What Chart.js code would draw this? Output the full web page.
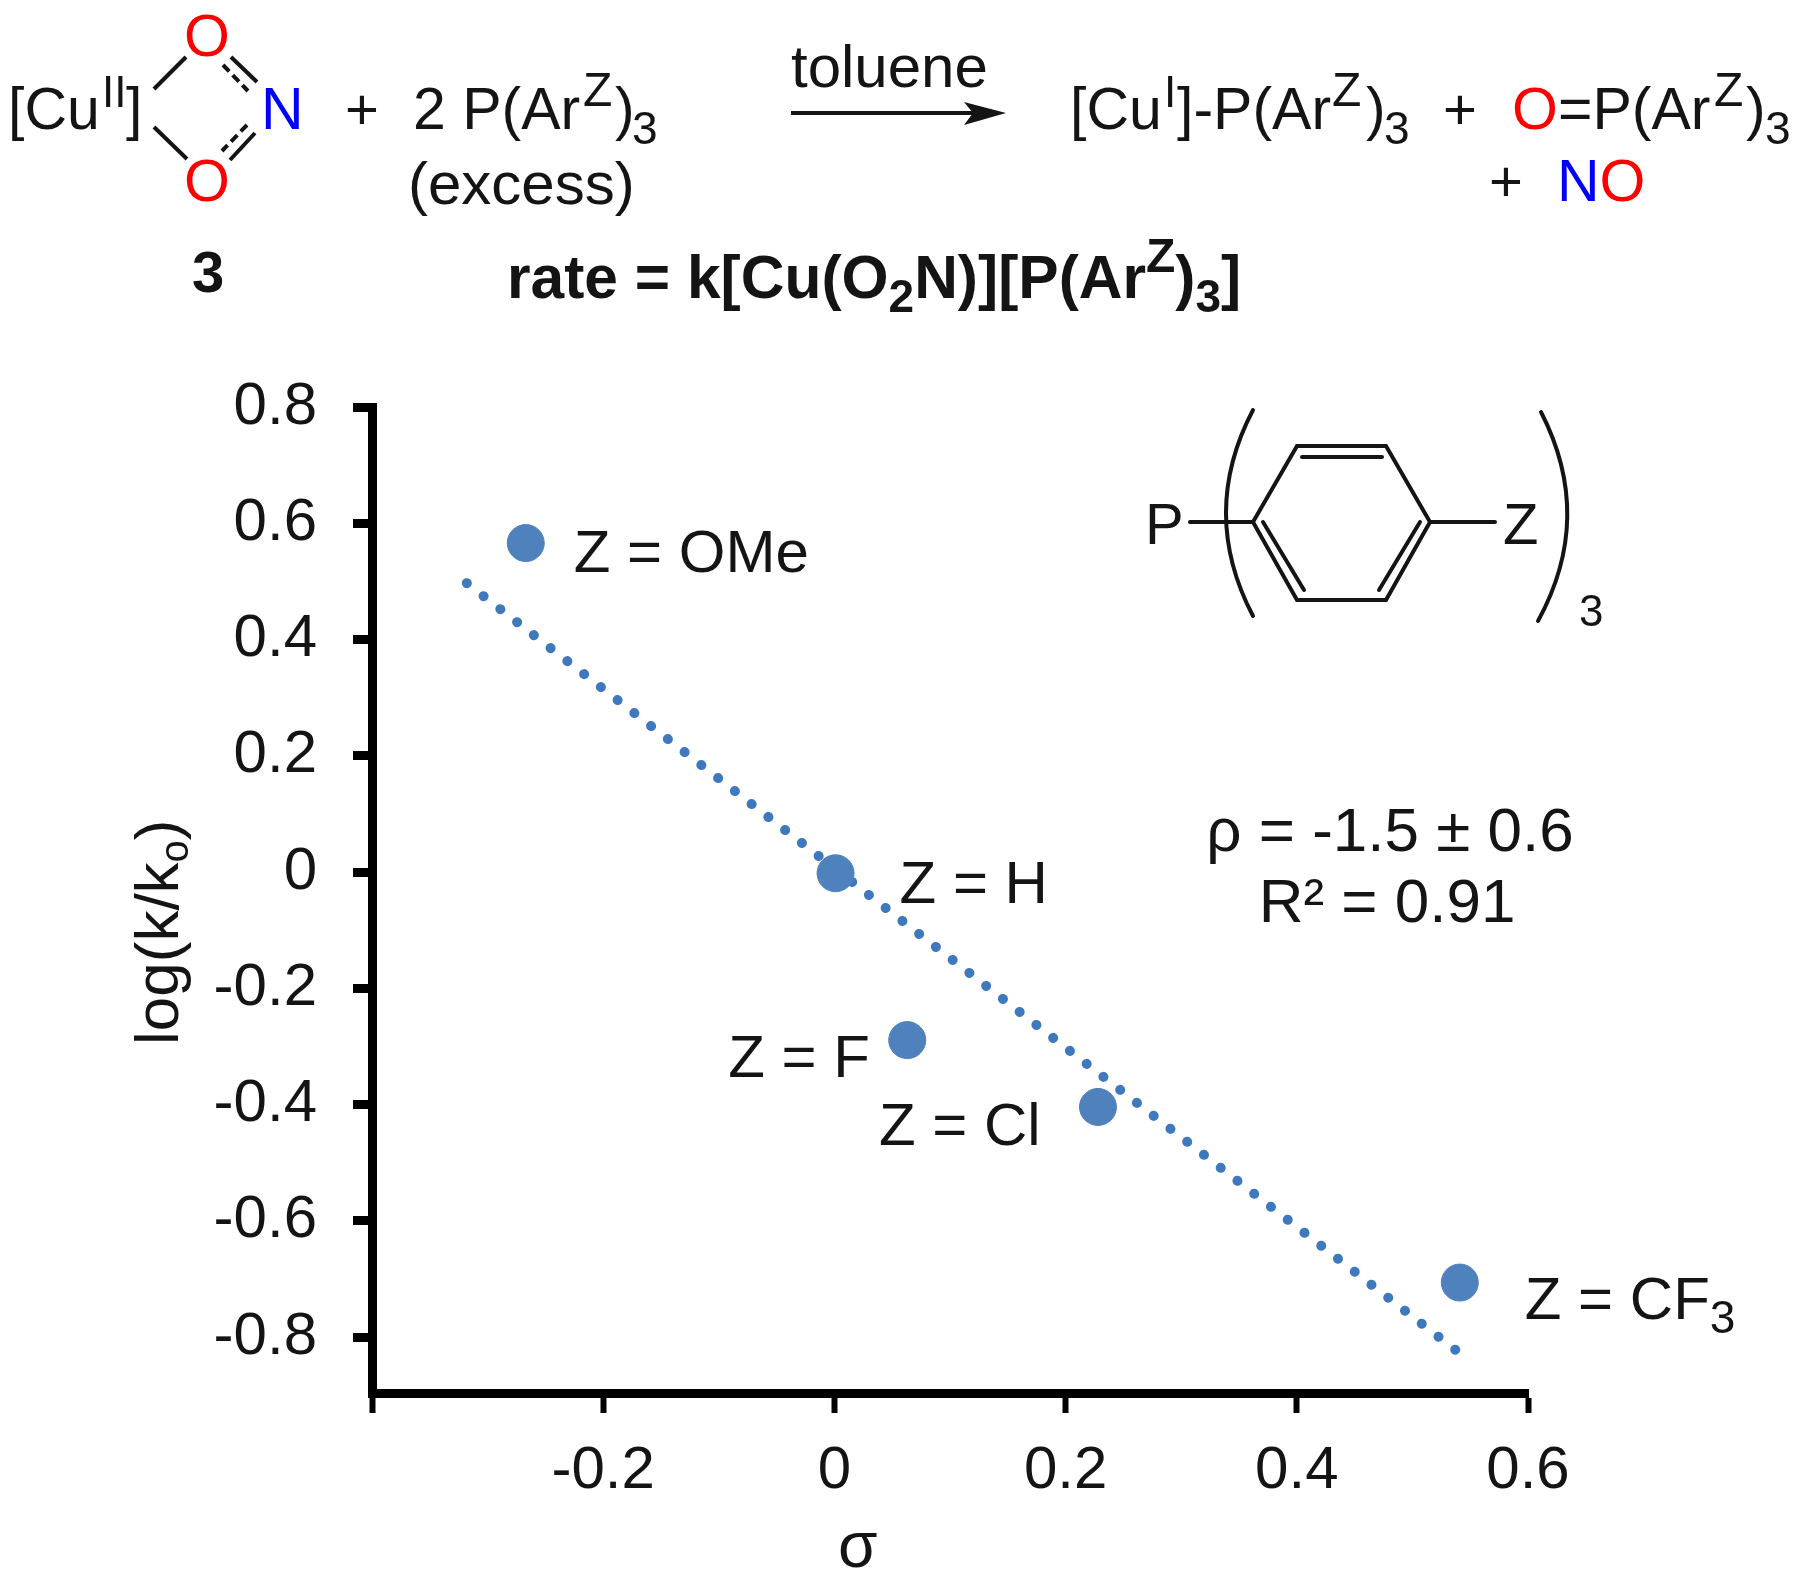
<!DOCTYPE html>
<html>
<head>
<meta charset="utf-8">
<title>Hammett plot</title>
<style>
  html, body { margin: 0; padding: 0; background: #fff; }
  canvas { display: block; }
</style>
<script src="https://cdn.jsdelivr.net/npm/chart.js@4"></script>
</head>
<body>
<canvas id="hammett" width="1800" height="1584"></canvas>
<script>
// data
const substituents = ['OMe', 'H', 'F', 'Cl', 'CF3'];
const sigmaValues = [-0.267, 0.001, 0.063, 0.228, 0.541];
const logRatios = [0.566, -0.002, -0.289, -0.404, -0.706];
const trendSigma = [-0.318, 0.538];
const trendLog = [0.497, -0.823];

const xTickValues = [-0.4, -0.2, 0, 0.2, 0.4, 0.6];
const xTickLabels = ['', '-0.2', '0', '0.2', '0.4', '0.6'];
const yTickValues = [-0.8, -0.6, -0.4, -0.2, 0, 0.2, 0.4, 0.6, 0.8];
const yTickLabels = ['-0.8', '-0.6', '-0.4', '-0.2', '0', '0.2', '0.4', '0.6', '0.8'];

const FONT = '"Liberation Sans", Arial, sans-serif';
const INK = '#141414';
const RED = '#ff0000';
const BLUE = '#0000ff';

// offset of each point label from its marker, in pixels
const labelOffsets = [[48, 29], [64, 30], [-179, 37], [-219, 38], [65, 36]];

// draws a row of text pieces, each piece is [text, options]
function drawRuns(ctx, x, y, runs, size, bold) {
  let penX = x;
  runs.forEach((run) => {
    const opt = run[1] || {};
    const s = opt.size || size;
    ctx.font = (bold ? 'bold ' : '') + s + 'px ' + FONT;
    ctx.fillStyle = opt.color || INK;
    ctx.textAlign = 'left';
    ctx.textBaseline = 'alphabetic';
    if (opt.x !== undefined) penX = opt.x;
    ctx.fillText(run[0], penX, y + (opt.dy || 0));
    penX += ctx.measureText(run[0]).width;
  });
  return penX;
}

function line(ctx, x1, y1, x2, y2, width, dash) {
  ctx.beginPath();
  ctx.lineWidth = width;
  ctx.setLineDash(dash || []);
  ctx.moveTo(x1, y1);
  ctx.lineTo(x2, y2);
  ctx.stroke();
  ctx.setLineDash([]);
}

function drawScheme(ctx) {
  ctx.strokeStyle = INK;
  ctx.lineCap = 'butt';

  // reactant
  drawRuns(ctx, 8, 129, [['[Cu'], ['II', { size: 44, dy: -22, x: 102 }], [']', { x: 126 }]], 59);
  drawRuns(ctx, 184, 56, [['O', { color: RED }]], 59);
  drawRuns(ctx, 261, 129, [['N', { color: BLUE }]], 59);
  drawRuns(ctx, 184, 201, [['O', { color: RED }]], 59);
  line(ctx, 154, 89, 186, 57, 4);
  line(ctx, 154, 127, 187, 159, 4);
  line(ctx, 231, 57, 257, 82, 4);
  line(ctx, 223, 65, 248, 91, 4, [9, 5]);
  line(ctx, 255, 133, 230, 160, 4);
  line(ctx, 247, 125, 222, 151, 4, [9, 5]);
  drawRuns(ctx, 345, 129, [['+']], 58);
  drawRuns(ctx, 413, 129, [['2 P(Ar'], ['Z', { size: 48, dy: -23, x: 583 }], [')', { x: 615 }], ['3', { size: 46, dy: 15, x: 632 }]], 59);
  drawRuns(ctx, 408, 204, [['(excess)']], 60);
  drawRuns(ctx, 192, 292, [['3']], 58, true);

  // rate law
  drawRuns(ctx, 507, 298, [
    ['rate = k[Cu(O'], ['2', { size: 46, dy: 14 }], ['N)][P(Ar'],
    ['Z', { size: 48, dy: -26 }], [')'], ['3', { size: 46, dy: 14 }], [']']
  ], 60.5, true);

  // arrow
  drawRuns(ctx, 791, 87, [['toluene']], 60);
  line(ctx, 791, 113, 985, 113, 4);
  ctx.fillStyle = INK;
  ctx.beginPath();
  ctx.moveTo(1006, 113);
  ctx.lineTo(964, 102);
  ctx.lineTo(973, 113);
  ctx.lineTo(964, 125);
  ctx.closePath();
  ctx.fill();

  // products
  drawRuns(ctx, 1070, 129, [
    ['[Cu'], ['I', { size: 44, dy: -22, x: 1164 }], [']-P(Ar', { x: 1177 }],
    ['Z', { size: 48, dy: -23, x: 1332 }], [')', { x: 1366 }], ['3', { size: 46, dy: 15, x: 1384 }]
  ], 59);
  drawRuns(ctx, 1443, 129, [['+']], 58);
  drawRuns(ctx, 1512, 129, [
    ['O', { color: RED }], ['=P(Ar', { x: 1558 }],
    ['Z', { size: 48, dy: -23, x: 1714 }], [')', { x: 1746 }], ['3', { size: 46, dy: 15, x: 1765 }]
  ], 59);
  drawRuns(ctx, 1489, 201, [['+']], 58);
  drawRuns(ctx, 1557, 201, [['N', { color: BLUE }], ['O', { color: RED }]], 59);
}

function drawPhosphine(ctx) {
  ctx.strokeStyle = INK;
  ctx.lineCap = 'round';
  ctx.lineJoin = 'miter';
  drawRuns(ctx, 1145, 544, [['P']], 58);
  drawRuns(ctx, 1503, 544, [['Z']], 58);
  line(ctx, 1190, 522, 1253, 522, 4);
  line(ctx, 1430, 522, 1495, 522, 4);
  ctx.lineWidth = 4;
  ctx.beginPath();
  ctx.moveTo(1253, 522);
  ctx.lineTo(1297, 446);
  ctx.lineTo(1386, 446);
  ctx.lineTo(1430, 522);
  ctx.lineTo(1386, 600);
  ctx.lineTo(1297, 600);
  ctx.closePath();
  ctx.stroke();
  line(ctx, 1302, 457, 1382, 457, 4);
  line(ctx, 1263, 522, 1304, 590, 4);
  line(ctx, 1420, 522, 1379, 590, 4);
  // big brackets
  ctx.beginPath();
  ctx.moveTo(1253, 410);
  ctx.quadraticCurveTo(1199, 513, 1253, 616);
  ctx.moveTo(1541, 412);
  ctx.quadraticCurveTo(1595, 517, 1538, 621);
  ctx.stroke();
  drawRuns(ctx, 1579, 626, [['3']], 44);
}

const schemePlugin = {
  id: 'schemePlugin',
  afterDraw(chart) {
    const ctx = chart.ctx;
    const x = chart.scales.x;
    const y = chart.scales.y;
    ctx.save();
    drawScheme(ctx);
    drawPhosphine(ctx);

    // point labels
    substituents.forEach((name, i) => {
      const px = x.getPixelForValue(sigmaValues[i]) + labelOffsets[i][0];
      const py = y.getPixelForValue(logRatios[i]) + labelOffsets[i][1];
      if (name === 'CF3') {
        drawRuns(ctx, px, py, [['Z = CF'], ['3', { size: 46, dy: 14 }]], 60);
      } else {
        drawRuns(ctx, px, py, [['Z = ' + name]], 60);
      }
    });

    // fit result
    ctx.font = '62px ' + FONT;
    ctx.fillStyle = INK;
    ctx.textAlign = 'center';
    ctx.fillText('ρ = -1.5 ± 0.6', 1390, 851);
    ctx.fillText('R² = 0.91', 1387, 922);

    // axis titles
    drawRuns(ctx, 838, 1567, [['σ']], 64);
    ctx.translate(178, 1045);
    ctx.rotate(-Math.PI / 2);
    drawRuns(ctx, 0, 0, [['log(k/k'], ['o', { size: 40, dy: 10 }], [')']], 62);
    ctx.restore();
  }
};

new Chart(document.querySelector('#hammett'), {
  type: 'scatter',
  data: {
    datasets: [
      {
        label: 'measured',
        data: sigmaValues.map((v, i) => ({ x: v, y: logRatios[i] })),
        backgroundColor: '#4f81bd',
        borderColor: '#4f81bd',
        pointRadius: 18.5,
        pointHoverRadius: 18.5
      },
      {
        label: 'fit',
        data: trendSigma.map((v, i) => ({ x: v, y: trendLog[i] })),
        showLine: true,
        pointRadius: 0,
        borderColor: '#3f79bd',
        borderWidth: 10,
        borderCapStyle: 'round',
        borderDash: [0.1, 21.1]
      }
    ]
  },
  options: {
    responsive: false,
    animation: false,
    layout: { padding: { top: 407, right: 272, left: 0, bottom: 0 } },
    plugins: { legend: { display: false }, tooltip: { enabled: false } },
    scales: {
      x: {
        type: 'linear',
        min: -0.4,
        max: 0.6,
        afterFit: (scale) => { scale.height = 191; },
        afterBuildTicks: (scale) => { scale.ticks = xTickValues.map((v) => ({ value: v })); },
        border: { display: true, color: '#000', width: 9 },
        grid: { drawOnChartArea: false, drawTicks: true, tickLength: 20, tickWidth: 6, tickColor: '#000' },
        ticks: {
          color: INK,
          font: { family: FONT, size: 60 },
          padding: 22,
          maxRotation: 0,
          autoSkip: false,
          callback: (value, index) => xTickLabels[index]
        }
      },
      y: {
        type: 'linear',
        min: -0.896,
        max: 0.8,
        afterFit: (scale) => { scale.width = 372; },
        afterBuildTicks: (scale) => { scale.ticks = yTickValues.map((v) => ({ value: v })); },
        border: { display: true, color: '#000', width: 9 },
        grid: { drawOnChartArea: false, drawTicks: true, tickLength: 19, tickWidth: 9, tickColor: '#000' },
        ticks: {
          color: INK,
          font: { family: FONT, size: 60 },
          padding: 36,
          autoSkip: false,
          callback: (value, index) => yTickLabels[index]
        }
      }
    }
  },
  plugins: [schemePlugin]
});
</script>
</body>
</html>
